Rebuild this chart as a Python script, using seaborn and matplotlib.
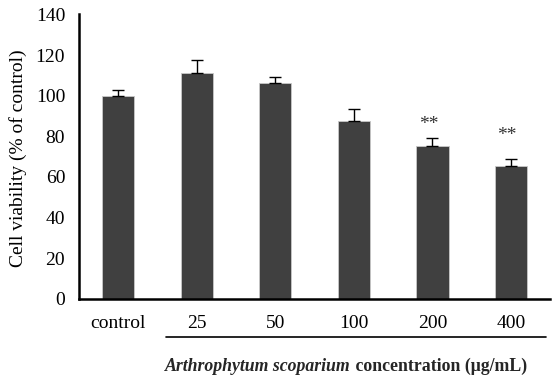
import matplotlib
matplotlib.use("Agg")
import matplotlib.pyplot as plt
import seaborn as sns
import pandas as pd

categories = ["control", "25", "50", "100", "200", "400"]
viability = [100.0, 111.0, 106.0, 87.7, 75.0, 65.5]
errors = [3.0, 6.5, 3.0, 5.5, 4.0, 3.5]
significance = ["", "", "", "", "**", "**"]
star_y = [0, 0, 0, 0, 86.0, 80.5]

sns.set_theme(style="white")
plt.rcParams['font.family'] = ['Liberation Serif', 'DejaVu Serif']

df = pd.DataFrame({"cat": categories, "val": viability})

fig = plt.figure(figsize=(5.53, 3.79), dpi=100)
ax = fig.add_axes([0.143, 0.212, 0.852, 0.750])

sns.barplot(data=df, x="cat", y="val", order=categories, color="#404040",
            width=0.41, edgecolor="#c8c8c8", linewidth=0.6, saturation=1,
            errorbar=None, ax=ax)

xs = list(range(len(categories)))
ax.errorbar(xs, viability, yerr=[[0] * len(errors), errors], fmt="none",
            ecolor="black", elinewidth=1.0, capsize=4.5, capthick=1.0, zorder=5)

for x, s, y in zip(xs, significance, star_y):
    if s:
        ax.text(x - 0.05, y, s, ha="center", va="center", fontsize=14, color="#333333")

ax.set_ylim(0, 140)
ax.set_xlim(-0.5, len(categories) - 0.5)
ax.set_yticks(range(0, 141, 20))
ax.set_xticks([i - 0.5 for i in range(len(categories) + 1)], minor=False)
ax.set_xticklabels([])
ax.set_xticks(xs, minor=True)
ax.set_xticklabels(categories, minor=True)
ax.tick_params(axis="x", which="major", direction="out", length=5, width=1.5, color="black")
ax.tick_params(axis="x", which="minor", length=0, pad=12, labelsize=14)
ax.tick_params(axis="y", direction="out", length=5, width=1.5, color="black", labelsize=14, pad=5)
for lab in ax.get_xticklabels(minor=True) + ax.get_yticklabels():
    lab.set_color("black")

for side in ["top", "right"]:
    ax.spines[side].set_visible(False)
for side in ["left", "bottom"]:
    ax.spines[side].set_color("black")
    ax.spines[side].set_linewidth(1.8)

ax.set_xlabel("")
ax.set_ylabel("")
fig.text(18 / 553, 1 - 158 / 379, "Cell viability (% of control)", fontsize=14,
         rotation=90, ha="center", va="center", color="black")

# group line under concentration labels
ax.plot([0.61, 5.44], [-18.9, -18.9], color="black", lw=1.2, clip_on=False)

# x-axis label: italic bold species name + bold rest
fig.canvas.draw()
renderer = fig.canvas.get_renderer()
t1 = fig.text(0, 0, "Arthrophytum scoparium", fontsize=12.8, fontweight="bold", fontstyle="italic")
t2 = fig.text(0, 0, " concentration (μg/mL)", fontsize=12.8, fontweight="bold")
w1 = t1.get_window_extent(renderer).width
w2 = t2.get_window_extent(renderer).width
W = fig.bbox.width
center_px = 346
start = center_px - (w1 + w2) / 2
ybase = (379 - 371) / 379
t1.set_position((start / W, ybase))
t2.set_position(((start + w1) / W, ybase))

fig.savefig("out.png", dpi=100)
